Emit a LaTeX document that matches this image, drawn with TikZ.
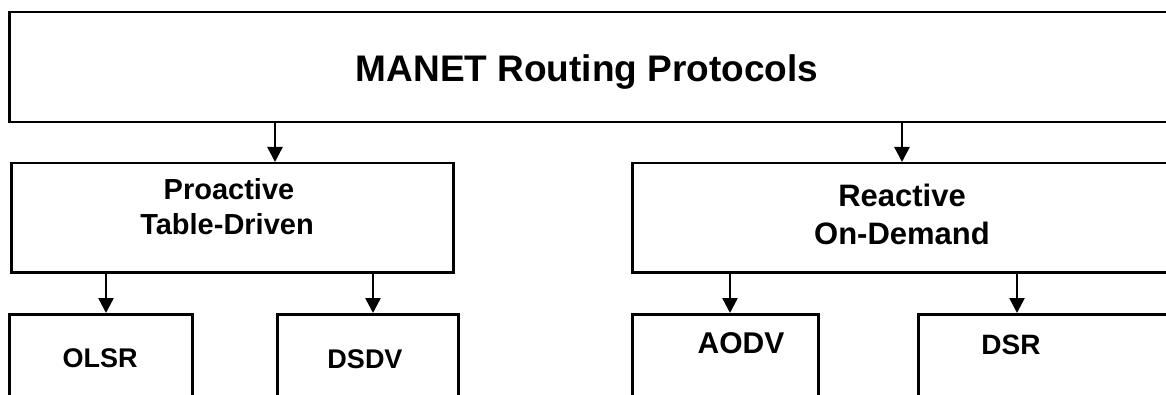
\documentclass[tikz,border=0pt]{standalone}
\usepackage{fontspec}
\setmainfont{Liberation Sans}
\usetikzlibrary{arrows.meta}
\tikzset{
  box/.style={draw=black, line width=2.5pt, fill=white, rectangle, anchor=north west, inner sep=0pt},
  lbl/.style={anchor=base, inner sep=0pt, font=\bfseries},
  arr/.style={draw=black, line width=2.5pt, -{Triangle[length=15pt,width=15pt]}},
}
\newcommand{\fsz}[1]{\fontsize{#1}{#1}\selectfont}
\begin{document}
\begin{tikzpicture}[x=1pt,y=-1pt]
\useasboundingbox (0,0) rectangle (1166,395);
\clip (0,0) rectangle (1166,395);
% boxes
\node[box, minimum width=1162pt, minimum height=110pt] (top) at (8,11) {};
\node[box, minimum width=442pt, minimum height=109pt] (pro) at (10,162) {};
\node[box, minimum width=542pt, minimum height=109pt] (rea) at (631,162) {};
\node[box, minimum width=183pt, minimum height=100pt] (olsr) at (8,313) {};
\node[box, minimum width=181pt, minimum height=100pt] (dsdv) at (276,313) {};
\node[box, minimum width=186pt, minimum height=100pt] (aodv) at (631,313) {};
\node[box, minimum width=270pt, minimum height=100pt] (dsr) at (917,313) {};
% labels
\node[lbl, font=\bfseries\fsz{37}] (tt) at (587,82) {MANET Routing Protocols};
\node[lbl, font=\bfseries\fsz{29}] (p1) at (229,200) {Proactive};
\node[lbl, font=\bfseries\fsz{29}] (p2) at (227,235) {Table-Driven};
\node[lbl, font=\bfseries\fsz{31}] (r1) at (902,207) {Reactive};
\node[lbl, font=\bfseries\fsz{31}] (r2) at (902,244) {On-Demand};
\node[lbl, font=\bfseries\fsz{27}] (l1) at (100,367) {OLSR};
\node[lbl, font=\bfseries\fsz{27}] (l2) at (365,368) {DSDV};
\node[lbl, font=\bfseries\fsz{30}] (l3) at (741,353) {AODV};
\node[lbl, font=\bfseries\fsz{28}] (l4) at (1011,354) {DSR};
% arrow columns
\coordinate (cp) at (275,0);
\coordinate (cr) at (902,0);
\coordinate (c1) at (106,0);
\coordinate (c2) at (373,0);
\coordinate (c3) at (730,0);
\coordinate (c4) at (1017,0);
\draw[arr] (cp |- top.south) -- (cp |- pro.north);
\draw[arr] (cr |- top.south) -- (cr |- rea.north);
\draw[arr] (c1 |- pro.south) -- (c1 |- olsr.north);
\draw[arr] (c2 |- pro.south) -- (c2 |- dsdv.north);
\draw[arr] (c3 |- rea.south) -- (c3 |- aodv.north);
\draw[arr] (c4 |- rea.south) -- (c4 |- dsr.north);
\end{tikzpicture}
\end{document}
